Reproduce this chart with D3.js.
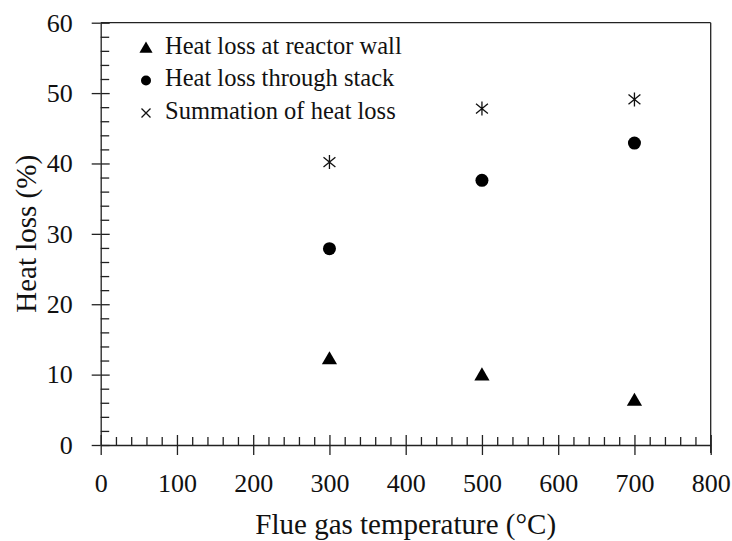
<!DOCTYPE html>
<html>
<head>
<meta charset="utf-8">
<script src="https://cdn.jsdelivr.net/npm/d3@7"></script>
<style>
  body { margin: 0; background: #fff; }
  svg text { font-family: "Liberation Serif", "DejaVu Serif", serif; fill: #111; }
</style>
</head>
<body>
<svg width="732" height="541"></svg>
<script>
// data
var temps = [300, 500, 700];
var wallLoss = [12.3, 10.0, 6.4];
var stackLoss = [27.9, 37.6, 42.9];
var totalLoss = [40.2, 47.8, 49.1];
var seriesNames = ["Heat loss at reactor wall", "Heat loss through stack", "Summation of heat loss"];
var xTicks = [0, 100, 200, 300, 400, 500, 600, 700, 800];
var yTicks = [0, 10, 20, 30, 40, 50, 60];

var svg = d3.select("svg");
var pL = 100.7, pR = 710.7, pT = 22.7, pB = 445;

var scX = d3.scaleLinear().domain([0, 800]).range([pL, pR]);
var scY = d3.scaleLinear().domain([0, 60]).range([pB, pT]);

var ink = "#222";

// minor ticks (inside)
var xMinor = d3.range(0, 801, 20).filter(v => v % 100 != 0);
var yMinor = d3.range(0, 61, 2).filter(v => v % 10 != 0);

svg.append("g")
    .attr("transform", "translate(0," + pB + ")")
    .call(d3.axisTop(scX).tickValues(xMinor).tickSize(8).tickFormat(""))
    .call(g => g.select(".domain").remove());
svg.append("g")
    .attr("transform", "translate(" + pL + ",0)")
    .call(d3.axisRight(scY).tickValues(yMinor).tickSize(8.5).tickFormat(""))
    .call(g => g.select(".domain").remove());

// major ticks crossing the axis, inner half
svg.append("g")
    .attr("transform", "translate(0," + pB + ")")
    .call(d3.axisTop(scX).tickValues(xTicks).tickSize(10).tickFormat(""))
    .call(g => g.select(".domain").remove());
svg.append("g")
    .attr("transform", "translate(" + pL + ",0)")
    .call(d3.axisRight(scY).tickValues(yTicks).tickSize(9).tickFormat(""))
    .call(g => g.select(".domain").remove());

// labelled axes
var xAxis = svg.append("g")
    .attr("transform", "translate(0," + pB + ")")
    .call(d3.axisBottom(scX).tickValues(xTicks).tickSize(10).tickSizeOuter(0).tickPadding(19));
var yAxis = svg.append("g")
    .attr("transform", "translate(" + pL + ",0)")
    .call(d3.axisLeft(scY).tickValues(yTicks).tickSize(9).tickSizeOuter(0).tickPadding(19));

svg.selectAll(".tick line").attr("stroke", ink).attr("stroke-width", 1.3);
svg.selectAll(".domain").attr("stroke", ink).attr("stroke-width", 1.3);
xAxis.selectAll("text").attr("font-size", 26).attr("font-family", "Liberation Serif").attr("fill", "#111");
yAxis.selectAll("text").attr("font-size", 26).attr("font-family", "Liberation Serif").attr("fill", "#111");

// frame: top and right
svg.append("line").attr("x1", pL).attr("x2", pR).attr("y1", pT).attr("y2", pT)
    .attr("stroke", ink).attr("stroke-width", 1.3);
svg.append("line").attr("x1", pR).attr("x2", pR).attr("y1", pT).attr("y2", pB + 8)
    .attr("stroke", ink).attr("stroke-width", 1.3);

// axis titles
svg.append("text")
    .attr("x", (pL + pR) / 2).attr("y", 534)
    .attr("text-anchor", "middle").attr("font-size", 29)
    .text("Flue gas temperature (°C)");
svg.append("text")
    .attr("transform", "translate(36," + ((pT + pB) / 2) + ") rotate(-90)")
    .attr("text-anchor", "middle").attr("font-size", 29)
    .text("Heat loss (%)");

// markers
var tri = d3.symbol().type(d3.symbolTriangle).size(100);
var starPath = function (r) {
    var a = r * 0.85, b = r * 0.7;
    return "M0," + (-r) + "L0," + r +
        "M" + (-a) + "," + (-b) + "L" + a + "," + b +
        "M" + (-a) + "," + b + "L" + a + "," + (-b);
};

svg.selectAll("path.wall")
    .data(temps)
    .enter()
    .append("path")
    .attr("class", "wall")
    .attr("d", tri)
    .attr("fill", "#000")
    .attr("transform", (d, i) => "translate(" + scX(d) + "," + (scY(wallLoss[i]) + 1.5) + ")");

svg.selectAll("circle.stack")
    .data(temps)
    .enter()
    .append("circle")
    .attr("class", "stack")
    .attr("r", 6.5)
    .attr("fill", "#000")
    .attr("cx", d => scX(d))
    .attr("cy", (d, i) => scY(stackLoss[i]));

svg.selectAll("path.total")
    .data(temps)
    .enter()
    .append("path")
    .attr("class", "total")
    .attr("d", starPath(7))
    .attr("fill", "none")
    .attr("stroke", "#111")
    .attr("stroke-width", 1.3)
    .attr("transform", (d, i) => "translate(" + scX(d) + "," + scY(totalLoss[i]) + ")");

// legend
var legend = svg.append("g");
var rowY = [48, 80.5, 113];
var markers = [
    g => g.append("path").attr("d", d3.symbol().type(d3.symbolTriangle).size(75)).attr("fill", "#000").attr("transform", "translate(0,1)"),
    g => g.append("circle").attr("r", 5).attr("fill", "#000"),
    g => g.append("path").attr("d", "M-4.5,-4.5L4.5,4.5M-4.5,4.5L4.5,-4.5").attr("stroke", "#111").attr("stroke-width", 1.3)
];
seriesNames.forEach(function (name, i) {
    var row = legend.append("g").attr("transform", "translate(146," + rowY[i] + ")");
    markers[i](row);
    row.append("text").attr("x", 19).attr("y", 5.5).attr("font-size", 24.5).text(name);
});
</script>
</body>
</html>
